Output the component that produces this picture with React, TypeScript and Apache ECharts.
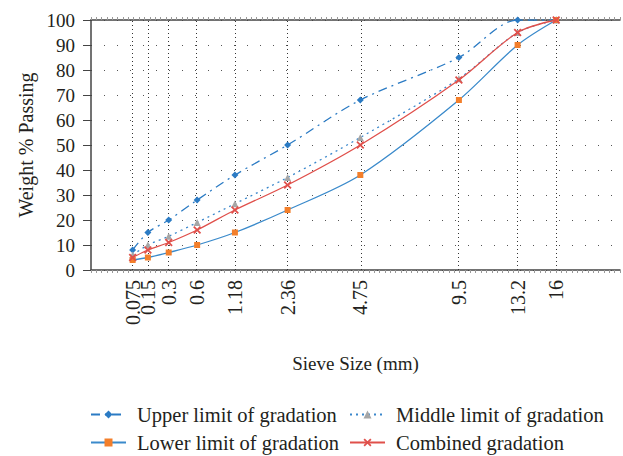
import React, { useEffect, useRef } from "react";
import * as echarts from "echarts";

const sieveSizes = [0.075, 0.15, 0.3, 0.6, 1.18, 2.36, 4.75, 9.5, 13.2, 16];
const sieveLabels = ["0.075", "0.15", "0.3", "0.6", "1.18", "2.36", "4.75", "9.5", "13.2", "16"];
const upperLimit = [8, 15, 20, 28, 38, 50, 68, 85, 100, 100];
const middleLimit = [6, 10, 13.5, 19, 26.5, 37, 53, 76.5, 95, 100];
const lowerLimit = [4, 5, 7, 10, 15, 24, 38, 68, 90, 100];
const combined = [5, 8, 11, 16, 24, 34, 50, 76, 95, 100];
const yTicks = [0, 10, 20, 30, 40, 50, 60, 70, 80, 90, 100];

const POWER = 0.45;
const X_MAX = 3.96;
const xPos = sieveSizes.map((s) => Math.pow(s, POWER));

const FONT = "'Liberation Serif', 'DejaVu Serif', serif";
const TEXT = "#231f20";
const XMARK =
  "path://M1.6,0L5,3.4L8.4,0L10,1.6L6.6,5L10,8.4L8.4,10L5,6.6L1.6,10L0,8.4L3.4,5L0,1.6Z";

const pairs = (vals: number[]) => vals.map((v, i) => [xPos[i], v]);

export default function App() {
  const ref = useRef<HTMLDivElement>(null);
  useEffect(() => {
    if (!ref.current) return;
    const chart = echarts.init(ref.current, undefined, { renderer: "svg" });
    const legendBase = {
      orient: "horizontal",
      padding: 0,
      itemWidth: 35,
      itemHeight: 10,
      textStyle: { fontFamily: FONT, fontSize: 20.5, color: TEXT, padding: [0, 0, 0, 6] },
    };
    chart.setOption({
      animation: false,
      backgroundColor: "#ffffff",
      grid: { left: 91, right: 3, top: 20, bottom: 186, containLabel: false },
      legend: [
        { ...legendBase, data: ["Upper limit of gradation"], left: 90, top: 404 },
        { ...legendBase, data: ["Middle limit of gradation"], left: 349, top: 404 },
        { ...legendBase, data: ["Lower limit of gradation"], left: 90, top: 432 },
        { ...legendBase, data: ["Combined gradation"], left: 349, top: 432 },
      ],
      xAxis: [
        {
          type: "value",
          position: "bottom",
          min: 0,
          max: X_MAX,
          interval: 0.04,
          name: "Sieve Size (mm)",
          nameLocation: "middle",
          nameGap: 84,
          nameTextStyle: { fontFamily: FONT, fontSize: 19, color: TEXT },
          axisLine: { show: true, lineStyle: { color: "#444", width: 1.5 } },
          axisTick: { show: true, length: 3, lineStyle: { color: "#999", width: 1 } },
          axisLabel: {
            customValues: [0, ...xPos, X_MAX],
            rotate: 90,
            margin: 10,
            fontFamily: FONT,
            fontSize: 20,
            color: TEXT,
            hideOverlap: false,
            formatter: (v: number) => {
              let best = -1;
              let bestD = 0.005;
              xPos.forEach((p, i) => {
                const d = Math.abs(p - v);
                if (d < bestD) {
                  bestD = d;
                  best = i;
                }
              });
              return best >= 0 ? sieveLabels[best] : "";
            },
          },
          splitLine: { show: false },
        },
        {
          type: "value",
          position: "top",
          min: 0,
          max: X_MAX,
          interval: 0.04,
          axisLine: { show: true, lineStyle: { color: "#444", width: 1.5 } },
          axisTick: { show: true, length: 3, lineStyle: { color: "#999", width: 1 } },
          axisLabel: { show: false },
          splitLine: { show: false },
        },
      ],
      yAxis: {
        type: "value",
        min: 0,
        max: 100,
        interval: 10,
        name: "Weight % Passing",
        nameLocation: "middle",
        nameGap: 54,
        nameTextStyle: { fontFamily: FONT, fontSize: 20, color: TEXT },
        axisLine: { show: true, lineStyle: { color: "#444", width: 1.5 } },
        axisTick: { show: true, length: 8, lineStyle: { color: "#444" } },
        axisLabel: {
          fontFamily: FONT,
          fontSize: 19,
          color: TEXT,
          margin: 16,
          customValues: yTicks,
        },
        splitLine: { show: true, lineStyle: { color: "#555", type: [1, 12], width: 1 } },
      },
      series: [
        {
          name: "Upper limit of gradation",
          type: "line",
          smooth: 0.3,
          data: pairs(upperLimit),
          symbol: "diamond",
          symbolSize: 7,
          itemStyle: { color: "#2b7bc4" },
          lineStyle: { color: "#2b7bc4", width: 1.3, type: [9, 5, 2, 5] },
          z: 3,
        },
        {
          name: "Middle limit of gradation",
          type: "line",
          smooth: 0.3,
          data: pairs(middleLimit),
          symbol: "triangle",
          symbolSize: 7,
          itemStyle: { color: "#a6a6a6" },
          lineStyle: { color: "#3a87cc", width: 1.3, type: [2, 4] },
          z: 3,
        },
        {
          name: "Lower limit of gradation",
          type: "line",
          smooth: 0.3,
          data: pairs(lowerLimit),
          symbol: "rect",
          symbolSize: 6,
          itemStyle: { color: "#f37f2b" },
          lineStyle: { color: "#3a8acb", width: 1.3 },
          z: 3,
          markLine: {
            silent: true,
            symbol: "none",
            label: { show: false },
            lineStyle: { color: "#333", type: [1, 3], width: 1 },
            data: xPos.map((v) => ({ xAxis: v })),
            z: 1,
          },
        },
        {
          name: "Combined gradation",
          type: "line",
          smooth: 0.3,
          data: pairs(combined),
          symbol: XMARK,
          symbolSize: 8,
          itemStyle: { color: "#e0504b" },
          lineStyle: { color: "#e0504b", width: 1.3 },
          z: 4,
        },
      ],
    });
    return () => chart.dispose();
  }, []);
  return <div ref={ref} style={{ width: 623, height: 456, position: "absolute", left: 0, top: 0 }} />;
}
